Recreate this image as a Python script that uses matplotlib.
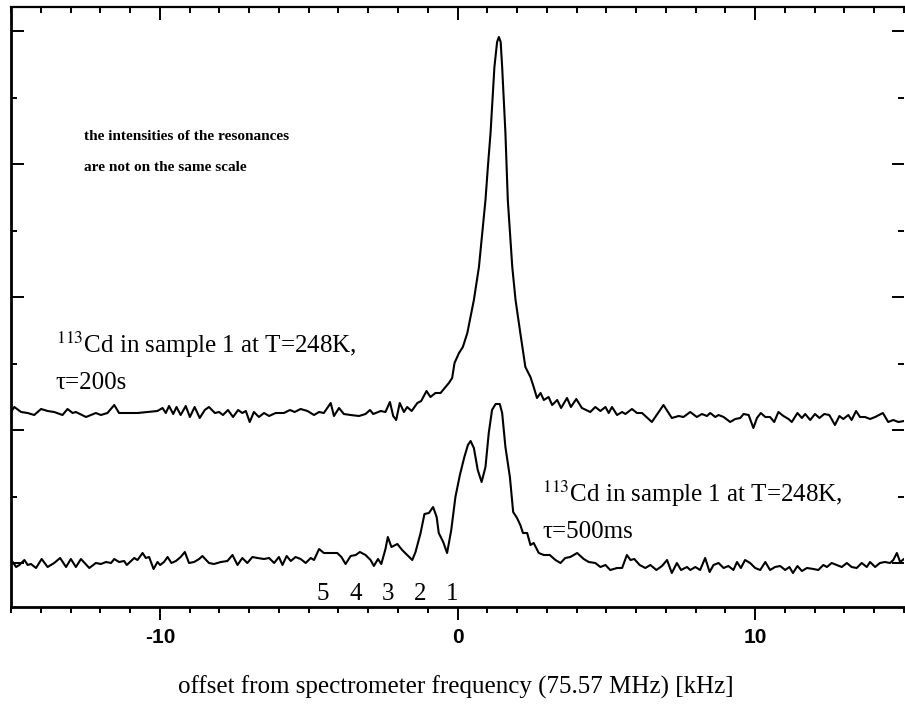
import matplotlib
matplotlib.use("Agg")
import matplotlib.pyplot as plt
from matplotlib.ticker import MultipleLocator, NullFormatter

plt.rcParams['mathtext.fontset'] = 'stix'

# ---------------- data (offset in kHz, intensity in arbitrary units) ----------------
upper_x = [-15.00, -14.89, -14.66, -14.44, -14.22, -13.99, -13.77, -13.55, -13.27, -13.10,
           -12.93, -12.82, -12.48, -12.15, -11.98, -11.76, -11.53, -11.37, -11.08, -10.75,
           -10.41, -10.08, -9.91, -9.80, -9.69, -9.55, -9.44, -9.30, -9.13, -8.99,
           -8.83, -8.66, -8.49, -8.35, -8.15, -8.01, -7.88, -7.71, -7.54, -7.37,
           -7.23, -7.11, -6.98, -6.84, -6.67, -6.50, -6.33, -6.11, -5.83, -5.63,
           -5.47, -5.27, -5.04, -4.82, -4.65, -4.49, -4.26, -4.15, -3.98, -3.82,
           -3.59, -3.31, -3.09, -2.94, -2.83, -2.58, -2.42, -2.27, -2.16, -2.06,
           -1.94, -1.80, -1.69, -1.54, -1.35, -1.22, -1.04, -0.91, -0.74, -0.57,
           -0.40, -0.29, -0.18, -0.10, 0.05, 0.18, 0.33, 0.45, 0.55, 0.72,
           0.94, 1.02, 1.11, 1.24, 1.33, 1.39, 1.45, 1.50, 1.61, 1.69,
           1.84, 1.95, 2.11, 2.28, 2.45, 2.56, 2.67, 2.79, 2.90, 3.06,
           3.18, 3.35, 3.48, 3.68, 3.81, 3.99, 4.18, 4.46, 4.63, 4.80,
           4.97, 5.08, 5.19, 5.36, 5.53, 5.64, 5.86, 6.03, 6.20, 6.53,
           6.76, 6.92, 7.09, 7.20, 7.43, 7.59, 7.82, 8.04, 8.21, 8.38,
           8.49, 8.66, 8.77, 8.94, 9.16, 9.33, 9.50, 9.61, 9.78, 9.94,
           10.06, 10.19, 10.34, 10.50, 10.64, 10.78, 10.95, 11.12, 11.23, 11.42,
           11.57, 11.68, 11.85, 12.01, 12.16, 12.32, 12.49, 12.68, 12.83, 12.96,
           13.13, 13.24, 13.39, 13.52, 13.69, 13.86, 14.03, 14.29, 14.47, 14.64,
           14.81, 15.00]
upper_y = [151, 156, 151, 150, 148, 154, 152, 151, 148, 154,
           150, 151, 146, 150, 148, 150, 158, 150, 150, 150,
           151, 152, 155, 150, 157, 149, 156, 148, 157, 146,
           156, 145, 153, 156, 150, 151, 148, 153, 146, 153,
           150, 152, 141, 151, 146, 150, 147, 150, 150, 153,
           151, 154, 152, 148, 151, 150, 160, 147, 155, 149,
           148, 147, 149, 153, 149, 152, 151, 161, 147, 143,
           160, 151, 156, 152, 160, 162, 172, 166, 170, 170,
           176, 180, 185, 200, 210, 216, 230, 248, 263, 296,
           363, 396, 430, 496, 521, 526, 521, 496, 430, 363,
           296, 263, 230, 196, 186, 176, 165, 170, 163, 166,
           158, 163, 155, 165, 156, 164, 155, 151, 156, 152,
           156, 150, 156, 148, 151, 149, 154, 150, 150, 141,
           151, 158, 150, 145, 147, 146, 151, 146, 149, 147,
           150, 146, 148, 146, 141, 144, 145, 149, 148, 135,
           145, 150, 146, 146, 141, 151, 147, 144, 141, 150,
           145, 149, 143, 149, 145, 149, 148, 138, 147, 144,
           148, 143, 152, 146, 146, 144, 146, 150, 141, 143,
           141, 142]

lower_x = [-15.00, -14.94, -14.83, -14.72, -14.55, -14.44, -14.33, -14.16, -13.97, -13.77,
           -13.55, -13.35, -13.15, -12.99, -12.82, -12.65, -12.37, -12.15, -11.98, -11.81,
           -11.64, -11.53, -11.37, -11.20, -11.11, -10.97, -10.86, -10.75, -10.58, -10.47,
           -10.36, -10.21, -10.08, -9.99, -9.86, -9.74, -9.61, -9.46, -9.30, -9.16,
           -9.02, -8.85, -8.68, -8.57, -8.35, -8.18, -7.95, -7.73, -7.56, -7.39,
           -7.23, -7.06, -6.89, -6.72, -6.50, -6.33, -6.16, -6.00, -5.88, -5.74,
           -5.60, -5.44, -5.27, -5.10, -4.93, -4.82, -4.65, -4.49, -4.26, -4.04,
           -3.90, -3.76, -3.59, -3.42, -3.28, -3.09, -2.92, -2.81, -2.67, -2.56,
           -2.42, -2.34, -2.22, -2.02, -1.86, -1.69, -1.52, -1.41, -1.24, -1.11,
           -0.96, -0.82, -0.70, -0.63, -0.48, -0.35, -0.21, -0.07, 0.08, 0.23,
           0.35, 0.44, 0.55, 0.68, 0.81, 0.94, 1.05, 1.16, 1.28, 1.42,
           1.50, 1.61, 1.76, 1.87, 2.00, 2.11, 2.20, 2.34, 2.45, 2.56,
           2.73, 2.90, 3.10, 3.29, 3.46, 3.62, 3.79, 4.02, 4.24, 4.41,
           4.63, 4.80, 4.97, 5.13, 5.36, 5.53, 5.69, 5.81, 5.94, 6.12,
           6.31, 6.48, 6.68, 6.87, 7.04, 7.20, 7.37, 7.51, 7.71, 7.82,
           7.99, 8.15, 8.32, 8.47, 8.60, 8.77, 8.94, 9.10, 9.27, 9.39,
           9.52, 9.66, 9.83, 10.00, 10.17, 10.34, 10.50, 10.67, 10.84, 11.01,
           11.15, 11.27, 11.42, 11.57, 11.74, 11.96, 12.12, 12.29, 12.41, 12.57,
           12.74, 12.91, 13.08, 13.24, 13.41, 13.58, 13.75, 13.86, 14.03, 14.19,
           14.36, 14.53, 14.64, 14.76, 14.87, 15.00]
lower_y = [1, 1, -4, -2, 3, -2, -1, -5, 4, -4,
           0, 5, -4, 4, -4, 4, -5, 0, -1, 1,
           0, 4, 1, 2, -2, 2, 5, 3, 10, 5,
           6, -6, 1, -2, 1, 6, 0, 2, 6, 11,
           0, 1, 4, 7, 0, -1, 1, 2, 8, -2,
           5, 0, 6, 5, 4, 5, 0, 6, -2, 7,
           2, 6, 4, 0, 5, 3, 14, 10, 10, 10,
           6, -1, 7, 8, 11, 8, 3, -3, 4, -1,
           14, 26, 16, 19, 13, 8, 3, 11, 30, 49,
           50, 56, 46, 30, 21, 10, 33, 66, 88, 106,
           118, 122, 115, 93, 81, 96, 130, 153, 159, 159,
           150, 116, 86, 51, 45, 38, 30, 30, 18, 20,
           10, 8, 8, 3, 0, 5, 6, 10, 4, 1,
           0, -4, -2, -7, -5, -5, 8, 3, 4, -2,
           -5, -2, -7, -3, 3, -10, 0, -7, -4, -7,
           -4, -7, 5, -9, -2, 0, -5, -3, -7, 1,
           -5, 3, 0, -5, -7, 1, -7, -4, -3, -7,
           -4, -10, -3, -8, -5, -6, -7, -2, -4, 0,
           -2, -4, 0, -4, -5, 0, -4, 1, -4, 0,
           1, 0, 3, 10, 1, 4]

resonance_labels = ['5', '4', '3', '2', '1']
resonance_pos = [-4.53, -3.42, -2.35, -1.24, -0.17]

x_ticks = [-10, 0, 10]
x_tick_labels = ['-10', '0', '10']

note_lines = ['the intensities of the resonances', 'are not on the same scale']
upper_label = [r'$^{113}$Cd in sample 1 at T=248K,', 'τ=200s']
lower_label = [r'$^{113}$Cd in sample 1 at T=248K,', 'τ=500ms']
xlabel = 'offset from spectrometer frequency (75.57 MHz) [kHz]'

# ---------------- figure ----------------
W, H = 905, 704
fig = plt.figure(figsize=(W / 100, H / 100), dpi=100)
ax = fig.add_axes([11 / W, 1 - 607 / H, 893 / W, 600 / H])

ax.plot(upper_x, upper_y, color='black', lw=1.5)
ax.plot(lower_x, lower_y, color='black', lw=1.5)

ax.set_xlim(-15, 15)
ax.set_ylim(-44, 556)

serif = ['Liberation Serif', 'DejaVu Serif']
sans = ['Liberation Sans', 'DejaVu Sans']

# x axis (bottom, outward ticks)
ax.xaxis.set_major_locator(MultipleLocator(10))
ax.xaxis.set_minor_locator(MultipleLocator(1))
ax.set_xticks(x_ticks)
ax.set_xticklabels(x_tick_labels, fontfamily=sans, fontweight='bold', fontsize=15)
ax.tick_params(axis='x', which='major', direction='out', length=9, width=1.4, pad=6)
ax.tick_params(axis='x', which='minor', direction='out', length=4, width=1.4)

# y axis (inward ticks on both sides, no labels)
ax.yaxis.set_major_locator(MultipleLocator(133))
ax.yaxis.set_minor_locator(MultipleLocator(66.5))
ax.yaxis.set_major_formatter(NullFormatter())
ax.tick_params(axis='y', which='both', direction='in', left=True, right=True,
               labelleft=False, labelright=False, width=1.4)
ax.tick_params(axis='y', which='major', length=9)
ax.tick_params(axis='y', which='minor', length=4.5)

# top axis with inward ticks
ax.spines['top'].set_visible(False)
ax.spines['right'].set_visible(False)
ax.spines['left'].set_linewidth(2.0)
ax.spines['bottom'].set_linewidth(2.0)
sec = ax.secondary_xaxis('top')
sec.xaxis.set_major_locator(MultipleLocator(10))
sec.xaxis.set_minor_locator(MultipleLocator(1))
sec.xaxis.set_major_formatter(NullFormatter())
sec.tick_params(axis='x', which='major', direction='in', length=9, width=1.4)
sec.tick_params(axis='x', which='minor', direction='in', length=4.5, width=1.4)
sec.spines['top'].set_linewidth(1.6)

# texts
ax.text(-12.55, 423, note_lines[0], fontfamily=serif, fontweight='bold', fontsize=11, va='baseline')
ax.text(-12.55, 392, note_lines[1], fontfamily=serif, fontweight='bold', fontsize=11, va='baseline')

ax.text(-13.5, 210, upper_label[0], fontfamily=serif, fontsize=18, va='baseline')
ax.text(-13.5, 174, upper_label[1], fontfamily=serif, fontsize=18, va='baseline')
ax.text(2.85, 61, lower_label[0], fontfamily=serif, fontsize=18, va='baseline')
ax.text(2.85, 25, lower_label[1], fontfamily=serif, fontsize=18, va='baseline')

for lab, pos in zip(resonance_labels, resonance_pos):
    ax.text(pos, -37, lab, fontfamily=serif, fontsize=18, ha='center', va='baseline')

fig.text(456 / W, 1 - 687 / H, xlabel, fontfamily=serif, fontsize=18, ha='center', va='center')

fig.savefig('out.png', dpi=100)
